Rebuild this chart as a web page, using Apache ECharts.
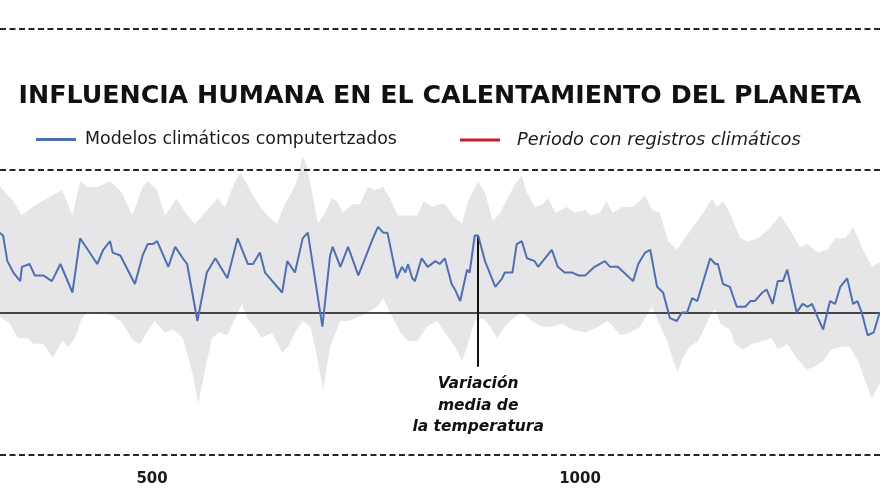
<!DOCTYPE html>
<html>
<head>
<meta charset="utf-8">
<script src="https://cdn.jsdelivr.net/npm/echarts@6/dist/echarts.min.js"></script>
<style>html,body{margin:0;padding:0;background:#fff}#c{width:880px;height:495px}</style>
</head>
<body>
<div id="c"></div>
<script>
// ---- data (years, temperature variation) ----
const titleText = 'INFLUENCIA HUMANA EN EL CALENTAMIENTO DEL PLANETA';
const seriesNames = ['Modelos climáticos computertzados', 'Periodo con registros climáticos'];
const xTickLabels = [500, 1000];
const annotationText = ['Variación', 'media de', 'la temperatura'];
const annotationYear = 881;

const meanYears = [322,326,331,338,346,348,357,363,373,383,393,407,416,425,436,443,451,454,463,480,489,495,501,506,519,527,536,541,553,564,574,588,600,612,618,626,632,652,658,667,676,682,699,708,711,720,729,741,758,764,770,775,786,792,796,799,804,807,815,822,831,836,842,850,854,860,868,871,877,881,889,901,909,912,921,926,932,938,947,951,959,967,974,982,991,998,1006,1017,1029,1035,1044,1055,1062,1068,1076,1082,1090,1097,1105,1113,1119,1125,1131,1137,1152,1158,1161,1167,1175,1183,1193,1199,1204,1213,1218,1225,1231,1237,1242,1253,1260,1266,1271,1278,1284,1292,1298,1304,1312,1319,1324,1329,1336,1343,1350];
const meanValues = [0.28,0.27,0.18,0.14,0.11,0.16,0.17,0.13,0.13,0.11,0.17,0.07,0.26,0.22,0.17,0.22,0.25,0.21,0.20,0.10,0.20,0.24,0.24,0.25,0.16,0.23,0.19,0.17,-0.03,0.14,0.19,0.12,0.26,0.17,0.17,0.21,0.14,0.07,0.18,0.14,0.26,0.28,-0.05,0.20,0.23,0.16,0.23,0.13,0.26,0.30,0.28,0.28,0.12,0.16,0.14,0.17,0.12,0.11,0.19,0.16,0.18,0.17,0.19,0.10,0.08,0.04,0.15,0.14,0.27,0.27,0.18,0.09,0.12,0.14,0.14,0.24,0.25,0.19,0.18,0.16,0.19,0.22,0.16,0.14,0.14,0.13,0.13,0.16,0.18,0.16,0.16,0.13,0.11,0.17,0.21,0.22,0.09,0.07,-0.02,-0.03,0.00,0.00,0.05,0.04,0.19,0.17,0.17,0.10,0.09,0.02,0.02,0.04,0.04,0.07,0.08,0.03,0.11,0.11,0.15,0.00,0.03,0.02,0.03,-0.02,-0.06,0.04,0.03,0.09,0.12,0.03,0.04,0.00,-0.08,-0.07,0.00];

const upperYears = [320,338,348,360,377,395,407,416,425,436,451,465,477,489,495,506,515,529,539,550,562,576,585,597,603,609,624,635,646,655,663,669,676,681,687,694,702,710,716,723,734,743,752,761,770,778,787,798,810,817,828,836,842,852,862,869,881,889,898,907,915,924,932,938,947,956,963,971,985,994,1006,1012,1023,1031,1038,1050,1062,1076,1084,1093,1103,1113,1120,1132,1144,1154,1160,1167,1175,1187,1196,1208,1220,1234,1245,1257,1266,1278,1289,1298,1310,1319,1329,1341,1352];
const upperValues = [0.45,0.39,0.34,0.37,0.40,0.43,0.34,0.46,0.44,0.44,0.46,0.42,0.34,0.44,0.46,0.43,0.34,0.40,0.35,0.31,0.35,0.40,0.37,0.46,0.49,0.46,0.38,0.34,0.31,0.38,0.42,0.46,0.55,0.51,0.42,0.31,0.35,0.40,0.39,0.35,0.38,0.38,0.44,0.43,0.44,0.40,0.34,0.34,0.34,0.39,0.37,0.38,0.38,0.34,0.31,0.39,0.46,0.42,0.32,0.35,0.40,0.45,0.48,0.42,0.37,0.38,0.40,0.35,0.37,0.35,0.36,0.34,0.35,0.39,0.35,0.37,0.37,0.41,0.36,0.35,0.25,0.22,0.25,0.30,0.35,0.40,0.37,0.39,0.35,0.26,0.25,0.26,0.29,0.34,0.29,0.23,0.24,0.21,0.22,0.26,0.26,0.30,0.23,0.16,0.18];

const lowerYears = [320,334,343,354,361,373,384,395,402,410,418,424,439,454,466,478,486,494,503,515,525,536,547,554,562,570,579,588,597,605,611,620,628,640,652,659,667,676,685,693,700,708,720,729,739,751,763,770,778,790,799,810,821,833,842,854,862,869,877,887,895,903,912,922,932,944,956,967,979,991,1006,1021,1032,1039,1047,1058,1070,1078,1084,1091,1102,1109,1114,1120,1128,1138,1146,1154,1158,1164,1175,1181,1190,1201,1213,1224,1231,1242,1253,1265,1274,1284,1294,1306,1315,1325,1333,1341,1352];
const lowerValues = [-0.01,-0.04,-0.09,-0.09,-0.11,-0.11,-0.16,-0.10,-0.12,-0.09,-0.02,0.00,0.00,-0.01,-0.04,-0.10,-0.11,-0.07,-0.03,-0.07,-0.06,-0.09,-0.21,-0.32,-0.20,-0.09,-0.07,-0.08,-0.02,0.03,-0.02,-0.05,-0.09,-0.07,-0.14,-0.12,-0.07,-0.03,-0.05,-0.16,-0.27,-0.12,-0.03,-0.03,-0.02,0.00,0.02,0.05,0.00,-0.07,-0.10,-0.10,-0.05,-0.03,-0.07,-0.12,-0.17,-0.11,-0.03,-0.02,-0.05,-0.09,-0.05,-0.02,0.00,-0.03,-0.05,-0.05,-0.04,-0.06,-0.07,-0.05,-0.03,-0.05,-0.08,-0.07,-0.05,-0.01,0.02,-0.03,-0.10,-0.17,-0.21,-0.16,-0.12,-0.10,-0.05,0.00,0.01,-0.04,-0.06,-0.11,-0.13,-0.11,-0.10,-0.09,-0.13,-0.11,-0.16,-0.20,-0.19,-0.17,-0.13,-0.12,-0.12,-0.17,-0.24,-0.30,-0.24];

const recordYears = [];   // instrumental period lies outside this view
const recordValues = [];

// ---- chart ----
const zip = (xs, ys) => xs.map((x, i) => [x, ys[i]]);
const annTop = meanValues[meanYears.indexOf(annotationYear)];
const annBottom = -0.19;

const chart = echarts.init(document.getElementById('c'), null, {renderer: 'canvas'});
const dash = (y) => ({
  type: 'line', z: 100,
  shape: {x1: 0, y1: y, x2: 880, y2: y},
  style: {stroke: '#262626', lineWidth: 2, lineDash: [6, 3.5]}
});

chart.setOption({
  animation: false,
  backgroundColor: '#fff',
  title: {
    text: titleText, left: 'center', top: 80, padding: 0,
    textStyle: {fontFamily: 'DejaVu Sans', fontWeight: 'bold', fontSize: 25.3, color: '#111', lineHeight: 32}
  },
  legend: [
    {
      data: [{name: seriesNames[0], textStyle: {fontStyle: 'normal'}}],
      left: 36, top: 131, icon: 'rect', itemWidth: 40, itemHeight: 3, itemGap: 10, padding: 0,
      textStyle: {fontFamily: 'DejaVu Sans', fontSize: 17.4, color: '#1a1a1a', padding: [0, 0, 0, 4]},
      selectedMode: false
    },
    {
      data: [{name: seriesNames[1], textStyle: {fontStyle: 'italic'}}],
      left: 460, top: 131, icon: 'rect', itemWidth: 40, itemHeight: 3, itemGap: 10, padding: 0,
      textStyle: {fontFamily: 'DejaVu Sans', fontSize: 17.8, color: '#1a1a1a', padding: [0, 0, 0, 12]},
      selectedMode: false
    }
  ],
  grid: {left: 0, right: 0, top: 140, bottom: 40, containLabel: false},
  xAxis: {
    type: 'value', min: 322.4, max: 1350.4,
    axisLine: {show: false}, axisTick: {show: false}, splitLine: {show: false},
    axisLabel: {
      customValues: xTickLabels, margin: 17, formatter: (v) => String(v),
      fontFamily: 'DejaVu Sans', fontWeight: 'bold', fontSize: 15, color: '#1a1a1a'
    }
  },
  yAxis: {
    type: 'value', min: -0.5, max: 0.605, show: false, splitLine: {show: false}
  },
  series: [
    {
      name: 'upper', type: 'line', data: zip(upperYears, upperValues),
      symbol: 'none', z: 1, silent: true,
      lineStyle: {width: 0, color: '#e6e6e8'},
      areaStyle: {color: '#e6e6e8', origin: 'start', opacity: 1}
    },
    {
      name: 'lower', type: 'line', data: zip(lowerYears, lowerValues),
      symbol: 'none', z: 2, silent: true,
      lineStyle: {width: 0, color: '#ffffff'},
      areaStyle: {color: '#ffffff', origin: 'start', opacity: 1}
    },
    {
      name: seriesNames[1], type: 'line', data: zip(recordYears, recordValues),
      symbol: 'none', z: 3, color: '#c4202b', lineStyle: {color: '#c4202b', width: 2}
    },
    {
      name: seriesNames[0], type: 'line', data: zip(meanYears, meanValues),
      symbol: 'none', z: 4, color: '#4f6fb0',
      lineStyle: {color: '#4f6fb0', width: 2},
      markLine: {
        silent: true, symbol: ['none', 'none'], z: 3,
        label: {show: false},
        data: [
          {yAxis: 0, lineStyle: {color: '#111', width: 1.5, type: 'solid'}},
          [
            {coord: [annotationYear, annTop], lineStyle: {color: '#111', width: 2, type: 'solid'}},
            {coord: [annotationYear, annBottom]}
          ]
        ]
      },
      markPoint: {
        silent: true, symbol: 'circle', symbolSize: 0,
        data: [{
          coord: [annotationYear, annBottom],
          label: {
            show: true, position: 'bottom', distance: 7,
            formatter: annotationText.join('\n'),
            fontFamily: 'DejaVu Sans', fontWeight: 'bold', fontStyle: 'italic',
            fontSize: 15.5, lineHeight: 21.5, color: '#111', align: 'center'
          }
        }]
      }
    }
  ],
  graphic: [dash(29), dash(170), dash(455)]
});
</script>
</body>
</html>
